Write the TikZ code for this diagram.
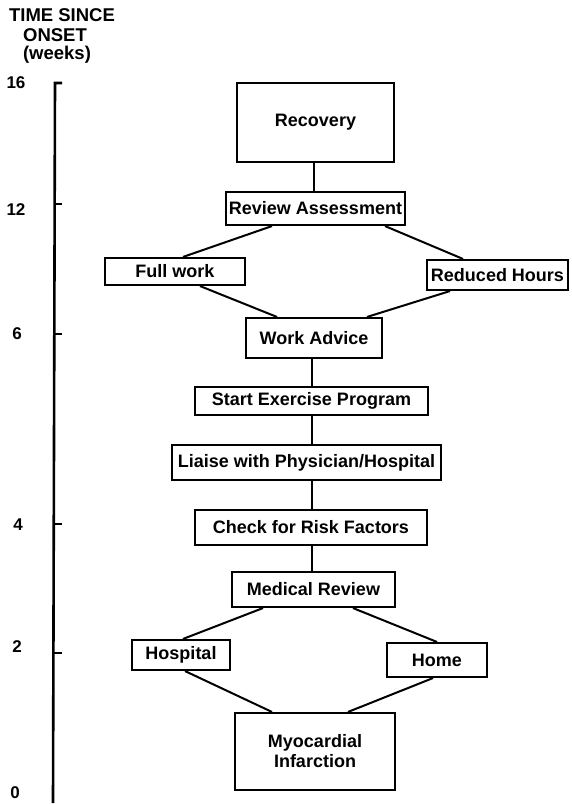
\documentclass[tikz,border=0pt]{standalone}
\usepackage{fontspec}
\setmainfont{Liberation Sans}
\usetikzlibrary{calc}

\tikzset{
    stagebox/.style={draw,line width=2.1pt,inner sep=0pt,align=center,
        font=\bfseries\fontsize{18}{20}\selectfont},
    link/.style={line width=2pt},
    weeklabel/.style={font=\bfseries\fontsize{17}{19}\selectfont},
    axistitle/.style={font=\bfseries\fontsize{18.5}{20}\selectfont}
}

\begin{document}
\begin{tikzpicture}[x=1pt,y=-1pt]
    \useasboundingbox (0,0) rectangle (571,804);
    % time axis
    \node[axistitle] (t1) at (62,15) {TIME SINCE};
    \node[axistitle] (t2) at (55,35) {ONSET};
    \node[axistitle] (t3) at (57,55) {(weeks)};
    \draw[line width=2.6pt] (62,83) -- (55,83) -- (53,803);
    \foreach \y in {204,334,524,653}
        \draw[line width=1.8pt] (54,\y) -- (62,\y);
    \node[weeklabel] (w16) at (16,83) {16};
    \node[weeklabel] (w12) at (16,210) {12};
    \node[weeklabel] (w6) at (17,334) {6};
    \node[weeklabel] (w4) at (18,525) {4};
    \node[weeklabel] (w2) at (17,647) {2};
    \node[weeklabel] (w0) at (15,793) {0};

    % stages
    \node[stagebox,minimum width=157,minimum height=79] (rec) at (315.5,122.5) {Recovery};
    \node[stagebox,minimum width=179,minimum height=33] (rev) at (315.5,208.5) {Review Assessment};
    \node[stagebox,minimum width=140,minimum height=27] (full) at (175,271.5) {Full work};
    \node[stagebox,minimum width=141,minimum height=30] (red) at (497.5,275) {Reduced Hours};
    \node[stagebox,minimum width=136,minimum height=40] (work) at (314,338) {Work Advice};
    \node[stagebox,minimum width=233,minimum height=28] (start) at (311.5,401) {Start Exercise Program};
    \node[stagebox,minimum width=269,minimum height=35] (liaise) at (306.5,462.5) {Liaise with Physician/Hospital};
    \node[stagebox,minimum width=232,minimum height=35] (check) at (311,527.5) {Check for Risk Factors};
    \node[stagebox,minimum width=163,minimum height=35] (med) at (313.5,589.5) {Medical Review};
    \node[stagebox,minimum width=98,minimum height=30] (hosp) at (181,655) {Hospital};
    \node[stagebox,minimum width=100,minimum height=34] (home) at (437,660) {Home};
    \node[stagebox,minimum width=160,minimum height=77] (mi) at (315,751.5) {Myocardial\\Infarction};

    % links
    \draw[link] ([xshift=-2pt]rec.south) -- ([xshift=-2pt]rev.north);
    \draw[link] ([xshift=-43.5pt]rev.south) -- ([xshift=8pt]full.north);
    \draw[link] ([xshift=69.5pt]rev.south) -- ([xshift=-34.5pt]red.north);
    \draw[link] ([xshift=25pt]full.south) -- ([xshift=-37pt]work.north);
    \draw[link] ([xshift=-47.5pt]red.south) -- ([xshift=53pt]work.north);
    \draw[link] ([xshift=-2pt]work.south) -- ([xshift=0.5pt]start.north);
    \draw[link] ([xshift=0.5pt]start.south) -- ([xshift=5.5pt]liaise.north);
    \draw[link] ([xshift=5.5pt]liaise.south) -- ([xshift=1pt]check.north);
    \draw[link] ([xshift=1pt]check.south) -- ([xshift=-1.5pt]med.north);
    \draw[link] ([xshift=-50.5pt]med.south) -- ([xshift=2pt]hosp.north);
    \draw[link] ([xshift=39.5pt]med.south) -- (home.north);
    \draw[link] ([xshift=4pt]hosp.south) -- ([xshift=-43pt]mi.north);
    \draw[link] ([xshift=-4pt]home.south) -- ([xshift=33pt]mi.north);
\end{tikzpicture}
\end{document}
